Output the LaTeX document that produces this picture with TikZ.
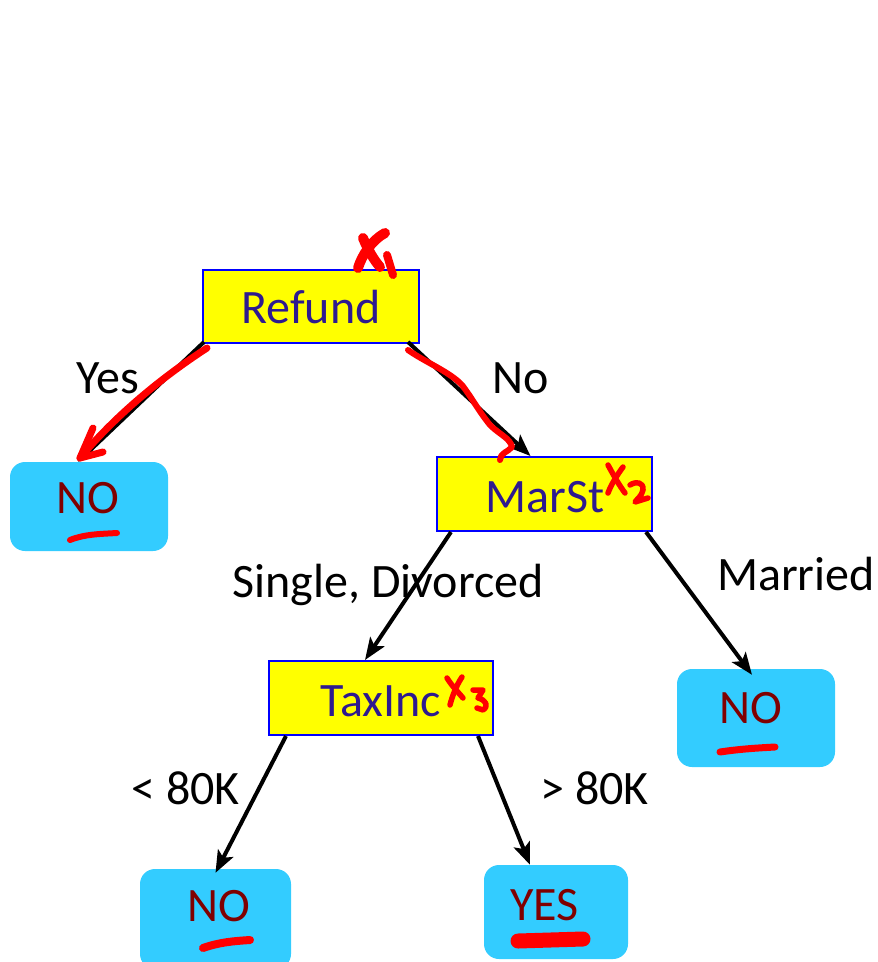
\documentclass[tikz,border=0pt]{standalone}
\usepackage{fontspec}
\setmainfont{Carlito}
\usetikzlibrary{arrows.meta}
\definecolor{boxyellow}{HTML}{FFFF00}
\definecolor{boxblue}{HTML}{0000FF}
\definecolor{leafblue}{HTML}{33CCFF}
\definecolor{inkblue}{HTML}{2E1A8F}
\definecolor{leafred}{HTML}{800000}
\definecolor{pen}{HTML}{FF0000}
\begin{document}
\begin{tikzpicture}[x=1pt,y=-1pt,
  attrbox/.style={draw=boxblue,line width=2pt,fill=boxyellow,minimum width=#1,minimum height=74pt,inner sep=0pt},
  leafbox/.style={fill=leafblue,rounded corners=15pt,inner sep=0pt},
  txt/.style={font=\fontsize{48}{57}\selectfont,anchor=base,inner sep=0pt},
  attrtxt/.style={txt,text=inkblue},
  leaftxt/.style={txt,text=leafred},
  edge/.style={line width=4pt,-{Stealth[length=22pt,width=17pt,inset=5pt]}},
  ink/.style={draw=pen,line width=#1,line cap=round,line join=round},
  ink/.default=8pt]
\useasboundingbox (0,0) rectangle (878,962);
% boxes
\node[attrbox=216pt,minimum height=73pt] (refund) at (311,306.5) {};
\node[attrbox=215pt] (marst) at (544.5,494) {};
\node[attrbox=224pt] (taxinc) at (381,698) {};
\node[leafbox,minimum width=158pt,minimum height=89pt] (leafA) at (89,506.5) {};
\node[leafbox,minimum width=158pt,minimum height=98pt] (leafB) at (756,718) {};
\node[leafbox,minimum width=151pt,minimum height=100pt] (leafC) at (215.5,919) {};
\node[leafbox,minimum width=144pt,minimum height=94pt] (leafD) at (556,912) {};
% box texts
\node[attrtxt] (trefund) at (311,323) {Refund};
\node[attrtxt] (tmarst) at (545,512) {MarSt};
\node[attrtxt] (ttaxinc) at (381,716) {TaxInc};
\node[leaftxt] (tA) at (88,513) {NO};
\node[leaftxt] (tB) at (751,723) {NO};
\node[leaftxt] (tC) at (218.5,921) {NO};
\node[leaftxt] (tD) at (544.5,920) {YES};
% edges
\draw[edge] ([xshift=2pt,yshift=2pt]refund.south west) -- ([xshift=-11pt]leafA.north);
\draw[edge] ([xshift=-12pt,yshift=2pt]refund.south east) -- ([xshift=-14pt]marst.north);
\draw[edge] ([xshift=15pt]marst.south west) -- ([xshift=-16pt]taxinc.north);
\draw[edge] ([xshift=-7pt]marst.south east) -- ([xshift=-4pt,yshift=-6pt]leafB.north);
\draw[edge] ([xshift=18pt]taxinc.south west) -- ([yshift=-4pt]leafC.north);
\draw[edge] ([xshift=-16pt]taxinc.south east) -- ([xshift=-26pt]leafD.north);
% edge labels
\node[txt] (lyes) at (108,393) {Yes};
\node[txt] (lno) at (521,393) {No};
\node[txt] (lsd) at (388,597) {Single, Divorced};
\node[txt] (lmar) at (796,590) {Married};
\node[txt] (llt) at (185.5,804) {< 80K};
\node[txt] (lgt) at (594.5,804) {> 80K};
% red annotations
\draw[ink=10pt] (385,233) .. controls (372,240) and (362,255) .. (358,268);
\draw[ink=10pt] (363,238) .. controls (368,250) and (374,260) .. (380,267);
\draw[ink=8pt] (387,255) -- (393,275);
\draw[ink=5.5pt] (608,465) .. controls (614,476) and (619,485) .. (625,493);
\draw[ink=5.5pt] (623,467) .. controls (617,475) and (611,485) .. (608,493);
\draw[ink=5.5pt] (630,485) .. controls (636,481) and (644,482) .. (643,490) .. controls (642,496) and (636,500) .. (635,502) -- (648,498);
\draw[ink=5.5pt] (447,678) .. controls (452,686) and (458,692) .. (463,698);
\draw[ink=5.5pt] (462,677) .. controls (456,686) and (452,697) .. (450,705);
\draw[ink=5.5pt] (473,690) -- (483,690) -- (478,698) .. controls (486,700) and (489,706) .. (483,710) -- (477,708);
\draw[ink=7pt] (207,348) .. controls (170,372) and (120,410) .. (80,458);
\draw[ink=7pt] (93,428) -- (80,458) -- (103,452);
\draw[ink=6pt] (408,350) .. controls (425,362) and (450,372) .. (462,385) .. controls (472,398) and (478,410) .. (490,425) .. controls (500,435) and (510,438) .. (512,447) .. controls (508,452) and (500,453) .. (500,460);
\draw[ink=6pt] (70,540) .. controls (85,534) and (100,534) .. (117,533);
\draw[ink=7pt] (720,752) .. controls (740,749) and (757,748) .. (775,747);
\draw[ink=8pt] (203,948) .. controls (220,942) and (235,941) .. (250,940);
\draw[ink=15pt] (518,941) -- (583,939);
\end{tikzpicture}
\end{document}
